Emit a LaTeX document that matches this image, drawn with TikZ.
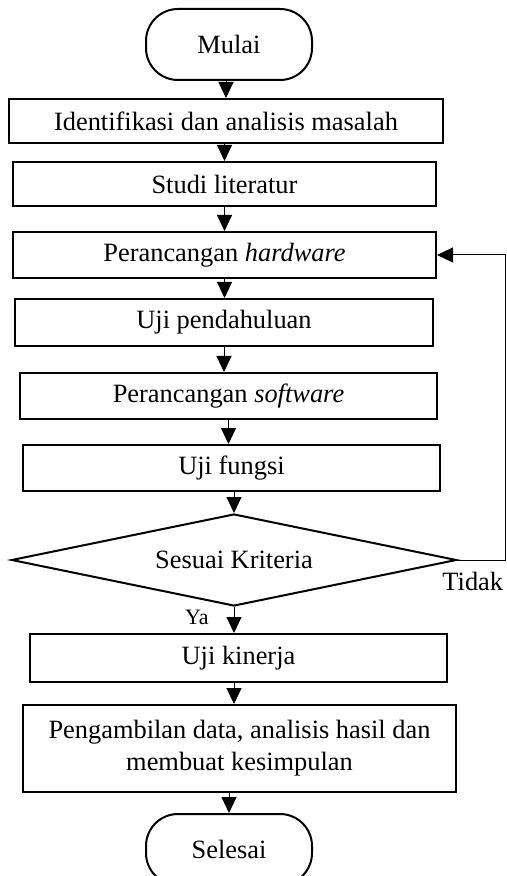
\documentclass[tikz,border=0pt]{standalone}
\usepackage{fontspec}
\setmainfont{Liberation Serif}
\usepackage{tikz}
\usetikzlibrary{positioning,arrows.meta,shapes.geometric}
\tikzset{
    flowterm/.style={draw, line width=1pt, rounded corners=16pt, align=center, minimum width=83pt, minimum height=35.5pt},
    flowbox/.style={draw, rectangle, line width=1pt, align=center, minimum height=23pt, inner sep=2pt},
    flowdecision/.style={draw, diamond, aspect=4.75, line width=1pt, align=center, minimum width=222.5pt, minimum height=46pt, inner sep=1pt},
    flowarrow/.style={draw, -{Triangle[length=8pt, width=7.5pt]}, line width=0.5pt},
    flowlabel/.style={inner sep=0pt}
}

\begin{document}
\begin{tikzpicture}[font=\fontsize{13.2}{16}\selectfont]
    \useasboundingbox (0,0) rectangle (253.5pt,-438pt);
    \node[flowterm] (mulai) at (114.5pt,-22.25pt) {Mulai};
    \node[flowbox, minimum width=217pt, minimum height=22pt, below=8.5pt of mulai, xshift=-1.5pt] (masalah) {Identifikasi dan analisis masalah};
    \node[flowbox, minimum width=211.5pt, minimum height=22pt, below=8.5pt of masalah, xshift=-0.75pt] (studi) {Studi literatur};
    \node[flowbox, minimum width=211.5pt, below=12pt of studi] (hardware) {Perancangan \textit{hardware}};
    \node[flowbox, minimum width=209pt, minimum height=23.5pt, below=9.5pt of hardware, xshift=-0.25pt] (ujiawal) {Uji pendahuluan};
    \node[flowbox, minimum width=208.5pt, below=12.5pt of ujiawal, xshift=2.25pt] (software) {Perancangan \textit{software}};
    \node[flowbox, minimum width=208.5pt, below=12pt of software, xshift=1.5pt] (fungsi) {Uji fungsi};
    \node[flowdecision, below=10.5pt of fungsi, xshift=1.25pt] (kriteria) {Sesuai Kriteria};
    \node[flowbox, minimum width=208.5pt, minimum height=24pt, below=13pt of kriteria, xshift=2.25pt] (kinerja) {Uji kinerja};
    \node[flowbox, minimum width=216.5pt, minimum height=43.5pt, below=10.5pt of kinerja, xshift=0.5pt] (hasil) {Pengambilan data, analisis hasil dan\\membuat kesimpulan};
    \node[flowterm, below=10pt of hasil, xshift=-5.25pt] (selesai) {Selesai};
    \coordinate[right=24pt of kriteria.east] (balik);
    \node[flowlabel, below left=5.75pt and 1pt of balik] (tidak) {Tidak};
    \node[flowlabel, font=\fontsize{11}{13}\selectfont, below left=1.5pt and 12.5pt of kriteria.south] (ya) {Ya};

    % alur utama
    \draw[flowarrow] (masalah.north |- mulai.south) -- (masalah.north);
    \draw[flowarrow] (studi.north |- masalah.south) -- (studi.north);
    \draw[flowarrow] (studi.south) -- (studi.south |- hardware.north);
    \draw[flowarrow] (hardware.south) -- (hardware.south |- ujiawal.north);
    \draw[flowarrow] (ujiawal.south) -- (ujiawal.south |- software.north);
    \draw[flowarrow] (software.south) -- (software.south |- fungsi.north);
    \draw[flowarrow] (kriteria.north |- fungsi.south) -- (kriteria.north);
    \draw[flowarrow] (kriteria.south) -- (kriteria.south |- kinerja.north);
    \draw[flowarrow] (kriteria.south |- kinerja.south) -- (kriteria.south |- hasil.north);
    \draw[flowarrow] (selesai.north |- hasil.south) -- (selesai.north);
    % kembali jika tidak sesuai
    \draw[flowarrow] (kriteria.east) -- (balik) |- (hardware.east);
\end{tikzpicture}
\end{document}
